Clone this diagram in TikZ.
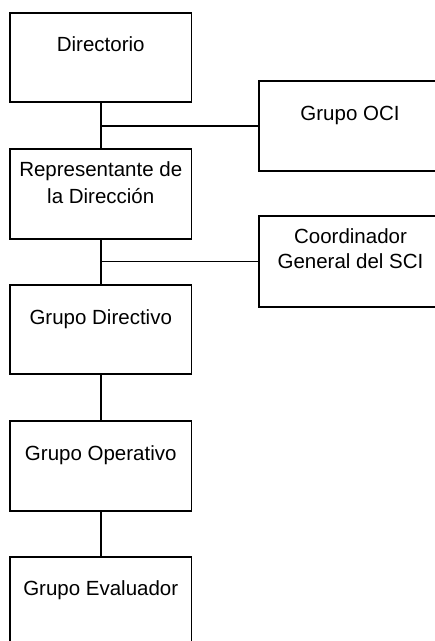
\documentclass[tikz,border=0pt]{standalone}
\usepackage{fontspec}
\setmainfont{Liberation Sans}
\begin{document}
\begin{tikzpicture}[x=1pt,y=-1pt,
  box/.style={draw, line width=1.8pt, inner sep=0pt, outer sep=0pt, minimum width=181.5pt},
  sidebox/.style={draw, line width=1.8pt, inner sep=0pt, outer sep=0pt, minimum width=183pt},
  lbl/.style={font=\fontsize{20.5}{25.5}\selectfont, align=center, inner sep=0pt, anchor=base},
  conn/.style={line width=1.8pt}]
\useasboundingbox (0,0) rectangle (435,641);
\clip (0,0) rectangle (435,641);
% boxes
\node[box, minimum height=89.3pt] (dir) at (100.75,57.35) {};
\node[sidebox, minimum height=90pt] (oci) at (350.5,125.7) {};
\node[box, minimum height=90pt] (rep) at (100.75,194) {};
\node[sidebox, minimum height=91pt] (coord) at (350.5,261.5) {};
\node[box, minimum height=89.3pt] (gd) at (100.75,329.65) {};
\node[box, minimum height=90pt] (go) at (100.75,465.7) {};
\node[box, minimum height=90pt] (ge) at (100.75,601.7) {};
% texts
\node[lbl] (tdir) at (100.75,51.7) {Directorio};
\node[lbl] (toci) at (350,120) {Grupo OCI};
\node[lbl, font=\fontsize{20.5}{26.3}\selectfont] (trep) at (100.75,203) {Representante de\\la Dirección};
\node[lbl, font=\fontsize{20.5}{25}\selectfont] (tcoord) at (350.5,268.3) {Coordinador\\General del SCI};
\node[lbl] (tgd) at (100.75,324) {Grupo Directivo};
\node[lbl] (tgo) at (100.75,460.7) {Grupo Operativo};
\node[lbl] (tge) at (100.75,595) {Grupo Evaluador};
% connectors
\coordinate (j1) at (dir.south |- oci.west);
\coordinate (j2) at (rep.south |- coord.west);
\draw[conn] (dir.south) -- (rep.north);
\draw[conn] (j1) -- (oci.west);
\draw[conn] (rep.south) -- (gd.north);
\draw[conn] (j2) -- (coord.west);
\draw[conn] (gd.south) -- (go.north);
\draw[conn] (go.south) -- (ge.north);
\end{tikzpicture}
\end{document}
